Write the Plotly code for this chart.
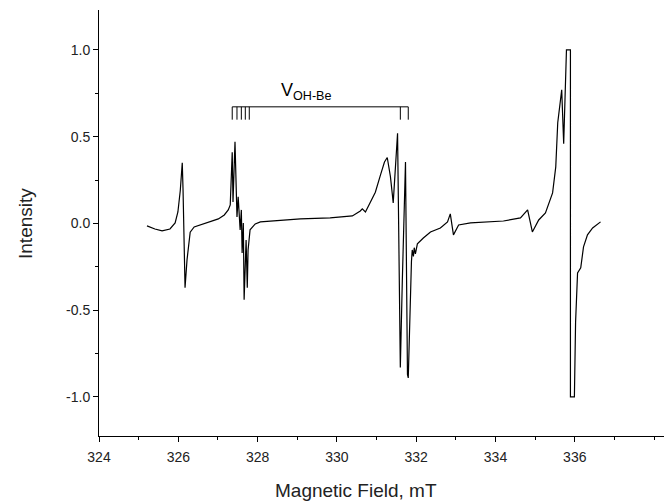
import plotly.graph_objects as go

# Spectrum key points (field in mT, intensity)
field = [325.21, 325.41, 325.59, 325.79, 325.92, 325.99, 326.05, 326.10, 326.12, 326.17,
         326.22, 326.30, 326.40, 326.55, 326.80, 327.01, 327.16, 327.26, 327.31, 327.36,
         327.38, 327.43, 327.48, 327.51, 327.56, 327.59, 327.61, 327.64, 327.66, 327.71,
         327.74, 327.76, 327.81, 327.94, 328.07, 328.32, 329.08, 329.83, 330.39, 330.59,
         330.64, 330.72, 330.84, 330.97, 331.10, 331.20, 331.27, 331.35, 331.40, 331.42,
         331.53, 331.58, 331.60, 331.65, 331.73, 331.78, 331.80, 331.88, 331.90, 331.93,
         331.95, 331.98, 332.03, 332.18, 332.36, 332.61, 332.79, 332.86, 332.94, 333.07,
         333.37, 334.20, 334.63, 334.81, 334.93, 335.09, 335.26, 335.44, 335.52, 335.57,
         335.67, 335.72, 335.77, 335.79, 335.89, 335.89, 335.99, 336.02, 336.07, 336.15,
         336.22, 336.32, 336.45, 336.65]
intensity = [-0.014, -0.032, -0.043, -0.032, 0.003, 0.066, 0.19, 0.35, 0.19, -0.37,
             -0.21, -0.05, -0.02, -0.009, 0.009, 0.026, 0.049, 0.078, 0.107, 0.41,
             0.124, 0.47, 0.037, 0.153, -0.037, 0.078, -0.17, 0.003, -0.44, -0.095,
             -0.37, -0.153, -0.037, -0.003, 0.009, 0.014, 0.026, 0.032, 0.043, 0.072,
             0.084, 0.066, 0.118, 0.18, 0.28, 0.354, 0.38, 0.27, 0.164, 0.118,
             0.52, -0.80, -0.83, -0.33, 0.354, -0.87, -0.89, -0.22, -0.153, -0.19,
             -0.14, -0.176, -0.118, -0.084, -0.049, -0.026, 0.009, 0.055, -0.066, -0.009,
             0.003, 0.014, 0.032, 0.078, -0.049, 0.02, 0.06, 0.176, 0.326, 0.58,
             0.77, 0.46, 0.87, 1.0, 1.0, -1.0, -1.0, -0.57, -0.285, -0.256,
             -0.135, -0.066, -0.026, 0.009]

# V_OH-Be stick diagram
stick_fields = [327.36, 327.48, 327.59, 327.69, 327.79, 331.60, 331.80]
stick_level = 0.672
stick_bottom = 0.598

y_tickvals = [-1.0, -0.5, 0.0, 0.5, 1.0]
y_ticktext = ["-1.0", "-0.5", "0.0", "0.5", "1.0"]
x_tickvals = [324, 326, 328, 330, 332, 334, 336]

fig = go.Figure()
fig.add_trace(go.Scatter(x=field, y=intensity, mode="lines",
                         line=dict(color="black", width=1.2), showlegend=False))

shapes = [dict(type="line", xref="x", yref="y", x0=min(stick_fields), x1=max(stick_fields),
               y0=stick_level, y1=stick_level, line=dict(color="black", width=1))]
for f in stick_fields:
    shapes.append(dict(type="line", xref="x", yref="y", x0=f, x1=f,
                       y0=stick_level, y1=stick_bottom, line=dict(color="black", width=1)))

fig.update_layout(
    width=664, height=502,
    margin=dict(l=99, r=0, t=10, b=66),
    paper_bgcolor="white", plot_bgcolor="white",
    font=dict(family="Liberation Sans, Arial, sans-serif", color="black", size=14),
    shapes=shapes,
    annotations=[
        dict(x=328.55, y=0.685, xref="x", yref="y", xanchor="left", yanchor="bottom",
             text="V<sub>OH-Be</sub>", showarrow=False, font=dict(size=18, color="black")),
        dict(x=0.455, y=-0.127, xref="paper", yref="paper", xanchor="center",
             yanchor="middle", text="Magnetic Field, mT", showarrow=False,
             font=dict(size=19, color="#222")),
        dict(x=-0.131, y=0.5, xref="paper", yref="paper", xanchor="center",
             yanchor="middle", text="Intensity", textangle=-90, showarrow=False,
             font=dict(size=19, color="#222")),
    ],
)
fig.update_xaxes(range=[324, 338.25], tickvals=x_tickvals, ticks="outside", ticklen=5,
                 tickwidth=1, tickcolor="black", showline=True, linecolor="black",
                 linewidth=1, showgrid=False, zeroline=False, ticklabelstandoff=3,
                 minor=dict(dtick=1, tick0=324, ticks="outside", ticklen=3, tickcolor="black"),
                 tickfont=dict(size=14, color="#222"))
fig.update_yaxes(range=[-1.225, 1.23], tickvals=y_tickvals, ticktext=y_ticktext,
                 ticks="outside", ticklen=5, tickwidth=1, tickcolor="black",
                 showline=True, linecolor="black", linewidth=1, showgrid=False,
                 zeroline=False,
                 minor=dict(tickvals=[-0.75, -0.25, 0.25, 0.75], ticks="outside",
                            ticklen=3, tickcolor="black"),
                 tickfont=dict(size=14, color="#222"))

fig.write_html("out.html")
